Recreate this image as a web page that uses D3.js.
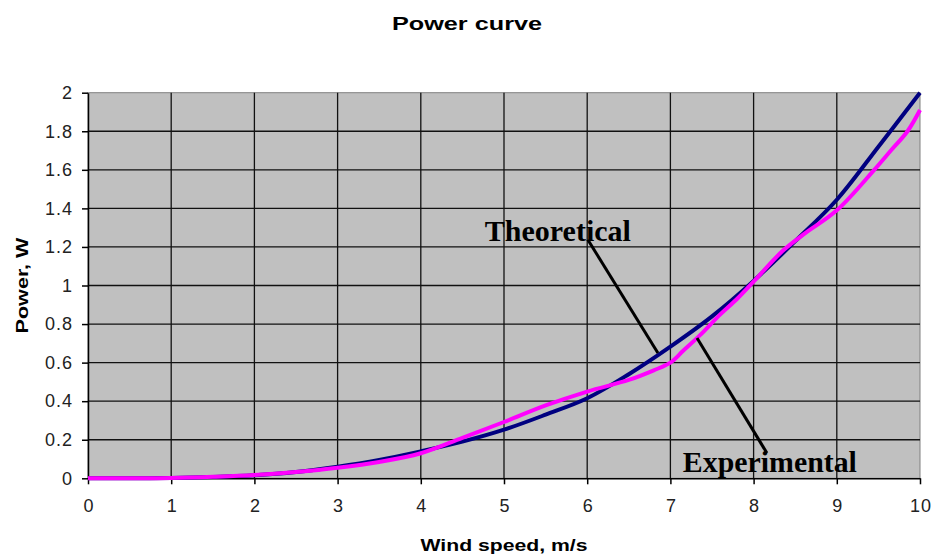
<!DOCTYPE html>
<html>
  <head>
  <title>Power curve</title>
  <style>
    body, html {
      margin: 0;
      padding: 0;
      background: #fff;
    }
  </style>
  </head>
  <body>
  <svg id="svg" width="932" height="555"></svg>
  <script src="https://d3js.org/d3.v7.min.js"></script>
  <script>
    // wind speed (m/s) and power (W)
    const theoSpeed = [0, 0.5, 1, 1.5, 2, 2.5, 3, 3.5, 4, 4.5, 5, 5.5, 6, 6.5, 7, 7.5, 8, 8.5, 9, 9.5, 10]
    const theoPower = [0, 0.0003, 0.002, 0.007, 0.016, 0.033, 0.06, 0.095, 0.14, 0.19, 0.252, 0.33, 0.415, 0.54, 0.683, 0.84, 1.024, 1.23, 1.445, 1.72, 2.0]

    const expSpeed = [0, 0.5, 1, 1.5, 2, 2.5, 3, 3.5, 4, 4.5, 5, 5.5, 6, 6.5, 6.8, 7, 7.15, 7.35, 7.6, 7.8, 8, 8.35, 8.6, 9, 9.45, 9.65, 9.85, 10]
    const expPower = [0, 0.0003, 0.002, 0.008, 0.017, 0.033, 0.055, 0.085, 0.13, 0.21, 0.292, 0.378, 0.45, 0.51, 0.56, 0.6, 0.66, 0.74, 0.85, 0.93, 1.02, 1.18, 1.265, 1.39, 1.6, 1.7, 1.8, 1.91]

    const xTicks = [0, 1, 2, 3, 4, 5, 6, 7, 8, 9, 10]
    const yTicks = [0, 0.2, 0.4, 0.6, 0.8, 1, 1.2, 1.4, 1.6, 1.8, 2]

    const chartTitle = 'Power curve'
    const xTitle = 'Wind speed, m/s'
    const yTitle = 'Power, W'

    // callouts: label anchor and leader line, in data units
    const theoLabel = { text: 'Theoretical', x: 4.77, y: 1.232, from: [6.01, 1.236], to: [6.85, 0.65] }
    const expLabel = { text: 'Experimental', x: 7.15, y: 0.034, from: [7.32, 0.728], to: [8.16, 0.131] }

    const margin = { top: 92.7, right: 12, bottom: 76.7, left: 88 }
    const width = 932
    const height = 555

    const x = d3.scaleLinear().domain([0, 10]).range([margin.left, width - margin.right])
    const y = d3.scaleLinear().domain([0, 2]).range([height - margin.bottom, margin.top])

    const svg = d3.select('#svg')

    svg.append('rect')
      .attr('x', x(0))
      .attr('y', y(2))
      .attr('width', x(10) - x(0))
      .attr('height', y(0) - y(2))
      .attr('fill', '#c0c0c0')
      .attr('stroke', '#808080')
      .attr('stroke-width', 1)

    // grid
    svg.append('g')
      .selectAll('line')
      .data(xTicks.slice(1, -1))
      .join('line')
      .attr('x1', d => x(d)).attr('x2', d => x(d))
      .attr('y1', y(0)).attr('y2', y(2))
      .attr('stroke', '#111')
      .attr('stroke-width', 1.3)

    svg.append('g')
      .selectAll('line')
      .data(yTicks.slice(1, -1))
      .join('line')
      .attr('x1', x(0)).attr('x2', x(10))
      .attr('y1', d => y(d)).attr('y2', d => y(d))
      .attr('stroke', '#111')
      .attr('stroke-width', 1.3)

    const xAxis = svg.append('g')
      .attr('transform', `translate(0, ${y(0)})`)
      .call(d3.axisBottom(x).tickValues(xTicks).tickSize(6).tickPadding(15).tickSizeOuter(0))
    const yAxis = svg.append('g')
      .attr('transform', `translate(${x(0)}, 0)`)
      .call(d3.axisLeft(y).tickValues(yTicks).tickFormat(d3.format('~g')).tickSize(6).tickPadding(10).tickSizeOuter(0))

    for (const g of [xAxis, yAxis]) {
      g.selectAll('path, line').attr('stroke', '#000').attr('stroke-width', 1.5)
      g.selectAll('text')
        .attr('fill', '#222')
        .style('font-family', 'Liberation Sans, Arial, sans-serif')
        .style('font-size', '18px')
        .style('letter-spacing', '1px')
    }
    yAxis.selectAll('text').attr('dx', '1')
    xAxis.selectAll('text').attr('dx', '0.5')

    const line = d3.line()
      .x(d => x(d[0]))
      .y(d => y(d[1]))
      .curve(d3.curveCatmullRom.alpha(0.5))

    svg.append('path')
      .datum(d3.zip(theoSpeed, theoPower))
      .attr('d', line)
      .attr('fill', 'none')
      .attr('stroke', '#000080')
      .attr('stroke-width', 4)

    svg.append('path')
      .datum(d3.zip(expSpeed, expPower))
      .attr('d', line)
      .attr('fill', 'none')
      .attr('stroke', '#ff00ff')
      .attr('stroke-width', 4)

    // callouts
    for (const c of [theoLabel, expLabel]) {
      svg.append('line')
        .attr('x1', x(c.from[0])).attr('y1', y(c.from[1]))
        .attr('x2', x(c.to[0])).attr('y2', y(c.to[1]))
        .attr('stroke', '#000')
        .attr('stroke-width', 3)
    }
    svg.append('text')
      .attr('x', x(theoLabel.x)).attr('y', y(theoLabel.y))
      .attr('textLength', 146).attr('lengthAdjust', 'spacingAndGlyphs')
      .style('font-family', 'Liberation Serif, Times New Roman, serif')
      .style('font-weight', 'bold').style('font-size', '29px')
      .text(theoLabel.text)
    svg.append('text')
      .attr('x', x(expLabel.x)).attr('y', y(expLabel.y))
      .attr('textLength', 174).attr('lengthAdjust', 'spacingAndGlyphs')
      .style('font-family', 'Liberation Serif, Times New Roman, serif')
      .style('font-weight', 'bold').style('font-size', '29px')
      .text(expLabel.text)

    // titles
    svg.append('text')
      .attr('x', 467).attr('y', 30)
      .attr('text-anchor', 'middle')
      .attr('textLength', 150).attr('lengthAdjust', 'spacingAndGlyphs')
      .style('font-family', 'Liberation Sans, Arial, sans-serif')
      .style('font-weight', 'bold').style('font-size', '19px')
      .text(chartTitle)

    svg.append('text')
      .attr('x', (x(0) + x(10)) / 2).attr('y', 551)
      .attr('text-anchor', 'middle')
      .attr('textLength', 167).attr('lengthAdjust', 'spacingAndGlyphs')
      .style('font-family', 'Liberation Sans, Arial, sans-serif')
      .style('font-weight', 'bold').style('font-size', '17px')
      .text(xTitle)

    svg.append('text')
      .attr('transform', `translate(28, ${(y(0) + y(2)) / 2}) rotate(-90)`)
      .attr('text-anchor', 'middle')
      .attr('textLength', 96).attr('lengthAdjust', 'spacingAndGlyphs')
      .style('font-family', 'Liberation Sans, Arial, sans-serif')
      .style('font-weight', 'bold').style('font-size', '17px')
      .text(yTitle)
  </script>
</body>
</html>
